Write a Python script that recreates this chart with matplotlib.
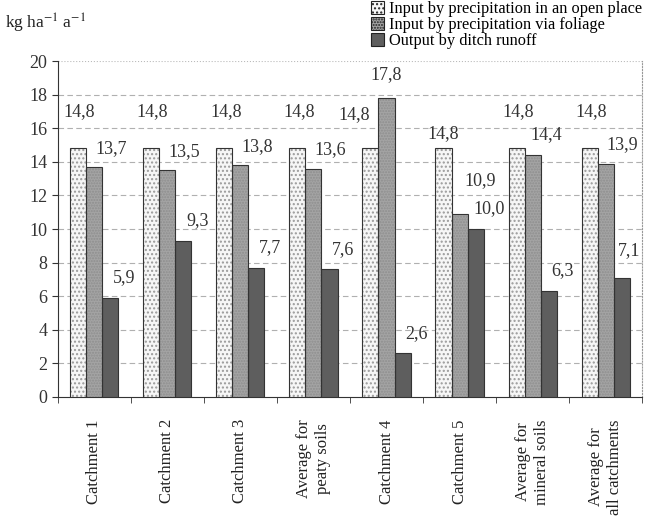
import numpy as np
import matplotlib.pyplot as plt
from matplotlib.patches import Patch

plt.rcParams["font.family"] = ["Liberation Serif", "DejaVu Serif"]
plt.rcParams["mathtext.fontset"] = "stix"

categories = ["Catchment 1", "Catchment 2", "Catchment 3", "Average for\npeaty soils",
              "Catchment 4", "Catchment 5", "Average for\nmineral soils",
              "Average for\nall catchments"]
open_place = [14.8, 14.8, 14.8, 14.8, 14.8, 14.8, 14.8, 14.8]
via_foliage = [13.7, 13.5, 13.8, 13.6, 17.8, 10.9, 14.4, 13.9]
ditch_runoff = [5.9, 9.3, 7.7, 7.6, 2.6, 10.0, 6.3, 7.1]
series_names = ["Input by precipitation in an open place",
                "Input by precipitation via foliage",
                "Output by ditch runoff"]

# label placement: (dy in data units, dx in points) per series, plus manual overrides
label_default = [(2.2, 1), (1.1, 12), (1.2, 10)]
label_override = {(4, 0): (2.0, -12), (4, 1): (1.4, 0), (5, 0): (0.9, 0),
                  (5, 1): (2.0, 15), (7, 2): (1.6, 5), (6, 1): (1.2, 10)}

faces = ["#f6f6f6", "#a4a4a4", "#5e5e5e"]
hatches = ["....", "......", ""]
hatch_cols = ["#9a9a9a", "#8e8e8e", "#5e5e5e"]

fig = plt.figure(figsize=(6.56, 5.22), dpi=100)
ax = fig.add_axes([0.088, 0.2395, 0.891, 0.6435])

x = np.arange(len(categories))
w = 0.22
data = [open_place, via_foliage, ditch_runoff]
for i, vals in enumerate(data):
    xs = x + (i - 1) * w
    ax.bar(xs, vals, w, color=faces[i], hatch=hatches[i], edgecolor=hatch_cols[i],
           linewidth=0, zorder=3)
    ax.bar(xs, vals, w, fill=False, edgecolor="#333333", linewidth=0.8, zorder=4)
    for j, v in enumerate(vals):
        dy, dx = label_override.get((j, i), label_default[i])
        ax.annotate(f"{v:.1f}".replace(".", ","), (xs[j], v + dy),
                    xytext=(dx, 0), textcoords="offset points",
                    ha="center", va="center", fontsize=13, color="#333333")

ax.set_xlim(-0.5, len(categories) - 0.5)
ax.set_ylim(0, 20)
ax.set_yticks(np.arange(0, 21, 2))
for yv in range(2, 20, 2):
    ax.axhline(yv, color="#b0b0b0", lw=0.8, ls=(0, (5, 3)), zorder=1)
ax.axhline(20, color="#bbbbbb", lw=0.8, ls=":", zorder=1)

ax.spines["top"].set_visible(False)
ax.spines["right"].set_linestyle(":")
ax.spines["right"].set_color("#999999")
ax.spines["left"].set_color("#333333")
ax.spines["bottom"].set_color("#333333")

ax.set_xticks(x)
ax.set_xticklabels(categories, rotation=90, fontsize=12, color="#222222",
                   multialignment="center")
ax.set_xticks(np.arange(-0.5, len(categories)), minor=True)
ax.tick_params(axis="x", which="major", length=0, pad=16)
ax.tick_params(axis="x", which="minor", length=4, color="#333333")
ax.tick_params(axis="y", length=4, labelsize=13, labelcolor="#333333", color="#333333")

fig.text(0.008, 0.955, "kg ha$^{-1}$ a$^{-1}$", fontsize=12.5, color="#222222",
         va="center")

handles = [Patch(facecolor=faces[i], hatch=hatches[i], edgecolor="#222222",
                 linewidth=0.8) for i in range(3)]
fig.legend(handles, series_names, loc="upper left", bbox_to_anchor=(0.555, 1.01),
           frameon=False, fontsize=11.8, handlelength=0.8, handleheight=0.8,
           handletextpad=0.3, labelspacing=0.0, borderaxespad=0)

fig.savefig("out.png", dpi=100)
